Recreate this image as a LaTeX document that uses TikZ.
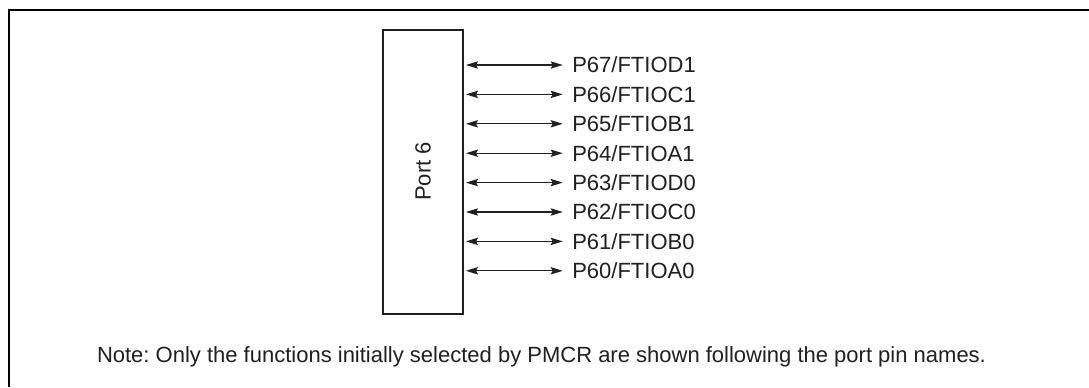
\documentclass[tikz,border=0pt]{standalone}
\usepackage{fontspec}
\setmainfont{Liberation Sans}
\usetikzlibrary{arrows.meta}
\definecolor{inkgray}{HTML}{231F20}
\frenchspacing
\tikzset{
  portbox/.style={draw=inkgray, line width=1.5pt, minimum width=60pt, minimum height=213pt, inner sep=0pt},
  pinlabel/.style={anchor=west, inner sep=0pt, text=inkgray},
  pinarrow/.style={draw=inkgray, line width=0.8pt, {Stealth[length=9pt,width=5.5pt,inset=1.5pt]}-{Stealth[length=9pt,width=5.5pt,inset=1.5pt]}}
}
\begin{document}
\begin{tikzpicture}[x=0.75pt,y=-0.75pt,font=\fontsize{16.5}{20}\selectfont]
\useasboundingbox (0,0) rectangle (1089,387);
% Frame
\draw[line width=1.5pt] (9,387) -- (9,10) -- (1089,10);
% Port block
\node[portbox] (port) at (423,171.5) {};
\node[rotate=90, text=inkgray] (portname) at (port.center) {Port 6};
% Pins
\foreach \name [count=\i from 0] in {P67/FTIOD1,P66/FTIOC1,P65/FTIOB1,P64/FTIOA1,P63/FTIOD0,P62/FTIOC0,P61/FTIOB0,P60/FTIOA0} {
  \node[pinlabel] (pin\i) at (572,65+29.4*\i) {\name};
  \draw[pinarrow] ([xshift=1.5pt]port.east |- pin\i.west) -- ([xshift=-7pt]pin\i.west);
}
% Note
\node[text=inkgray] (note) at (541.5,357) {Note: Only the functions initially selected by PMCR are shown following the port pin names.};
\end{tikzpicture}
\end{document}
